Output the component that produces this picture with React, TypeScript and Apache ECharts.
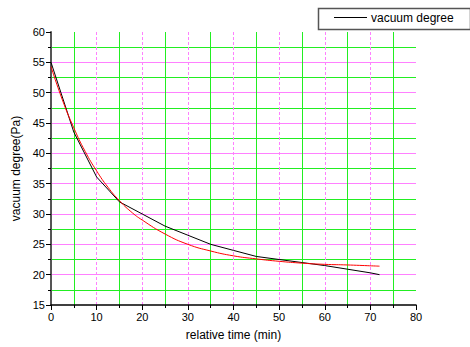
import React, { useEffect, useRef } from "react";
import * as echarts from "echarts";

const measuredTime = [0, 5, 10, 15, 20, 25, 30, 35, 40, 45, 50, 55, 60, 65, 70, 72];
const measuredVacuum = [55, 43.5, 36.1, 32, 30, 28, 26.5, 25, 24, 23, 22.5, 22, 21.5, 20.9, 20.3, 20];

const fitTime = [0, 2.5, 5, 7.5, 10, 12.5, 15, 17.5, 20, 25, 30, 35, 40, 45, 50, 55, 60, 65, 72];
const fitVacuum = [54.3, 48.8, 44.2, 40.3, 37.1, 34.4, 32.2, 30.4, 29.0, 26.7, 25.0, 23.9, 23.1, 22.6, 22.2, 21.9, 21.7, 21.6, 21.4];

const xLabel = "relative time (min)";
const yLabel = "vacuum degree(Pa)";
const legendName = "vacuum degree";

export default function App() {
  const ref = useRef<HTMLDivElement>(null);
  useEffect(() => {
    if (!ref.current) return;
    const chart = echarts.init(ref.current, undefined, { renderer: "svg" });
    const font = "Liberation Sans, Arial, sans-serif";
    const green = "#22ee22";
    const pink = "#ff80ff";
    chart.setOption({
      animation: false,
      backgroundColor: "#ffffff",
      grid: { left: 51, top: 32, width: 365, height: 273, containLabel: false },
      graphic: [
        {
          type: "rect",
          shape: { x: 318.5, y: 8.5, width: 152, height: 21 },
          style: { fill: "#fff", stroke: "#555", lineWidth: 1.5 },
          z: 10,
        },
        {
          type: "line",
          shape: { x1: 334, y1: 17.5, x2: 367, y2: 17.5 },
          style: { stroke: "#000", lineWidth: 1 },
          z: 11,
        },
        {
          type: "text",
          x: 371,
          y: 18,
          style: { text: legendName, fontFamily: font, fontSize: 12, fill: "#000", verticalAlign: "middle", align: "left" },
          z: 11,
        },
      ],
      xAxis: {
        type: "value",
        min: 0,
        max: 80,
        interval: 10,
        name: xLabel,
        nameLocation: "middle",
        nameGap: 24,
        nameTextStyle: { fontFamily: font, fontSize: 12, color: "#000" },
        axisLine: { show: true, onZero: false, lineStyle: { color: "#000", width: 1.5 } },
        axisTick: { show: true, inside: false, length: 5, lineStyle: { color: "#000", width: 1 } },
        minorTick: { show: true, splitNumber: 2, length: 3, lineStyle: { color: "#000", width: 1 } },
        axisLabel: { fontFamily: font, fontSize: 11, color: "#000", margin: 6 },
        splitLine: { show: true, showMaxLine: false, showMinLine: false, lineStyle: { color: pink, type: [3, 2], width: 1 } },
        minorSplitLine: { show: true, lineStyle: { color: green, type: "solid", width: 1, opacity: 1 } },
      },
      yAxis: {
        type: "value",
        min: 15,
        max: 60,
        interval: 5,
        name: yLabel,
        nameLocation: "middle",
        nameGap: 29,
        nameTextStyle: { fontFamily: font, fontSize: 12, color: "#000" },
        axisLine: { show: true, onZero: false, lineStyle: { color: "#555", width: 2 } },
        axisTick: { show: true, inside: false, length: 5, lineStyle: { color: "#000", width: 1 } },
        minorTick: { show: true, splitNumber: 2, length: 3, lineStyle: { color: "#000", width: 1 } },
        axisLabel: { fontFamily: font, fontSize: 11, color: "#000", margin: 6 },
        splitLine: { show: true, showMaxLine: false, showMinLine: false, lineStyle: { color: pink, type: "solid", width: 1 } },
        minorSplitLine: { show: true, lineStyle: { color: green, type: "solid", width: 1, opacity: 1 } },
      },
      series: [
        {
          name: legendName,
          type: "line",
          data: measuredTime.map((t, i) => [t, measuredVacuum[i]]),
          showSymbol: false,
          symbol: "none",
          lineStyle: { color: "#000", width: 1 },
          itemStyle: { color: "#000" },
          z: 3,
        },
        {
          name: "fit",
          type: "line",
          data: fitTime.map((t, i) => [t, fitVacuum[i]]),
          smooth: true,
          showSymbol: false,
          symbol: "none",
          lineStyle: { color: "#ff0000", width: 1 },
          itemStyle: { color: "#ff0000" },
          z: 4,
        },
      ],
    });
    return () => chart.dispose();
  }, []);
  return <div ref={ref} style={{ width: 470, height: 347, position: "absolute", left: 0, top: 0 }} />;
}
